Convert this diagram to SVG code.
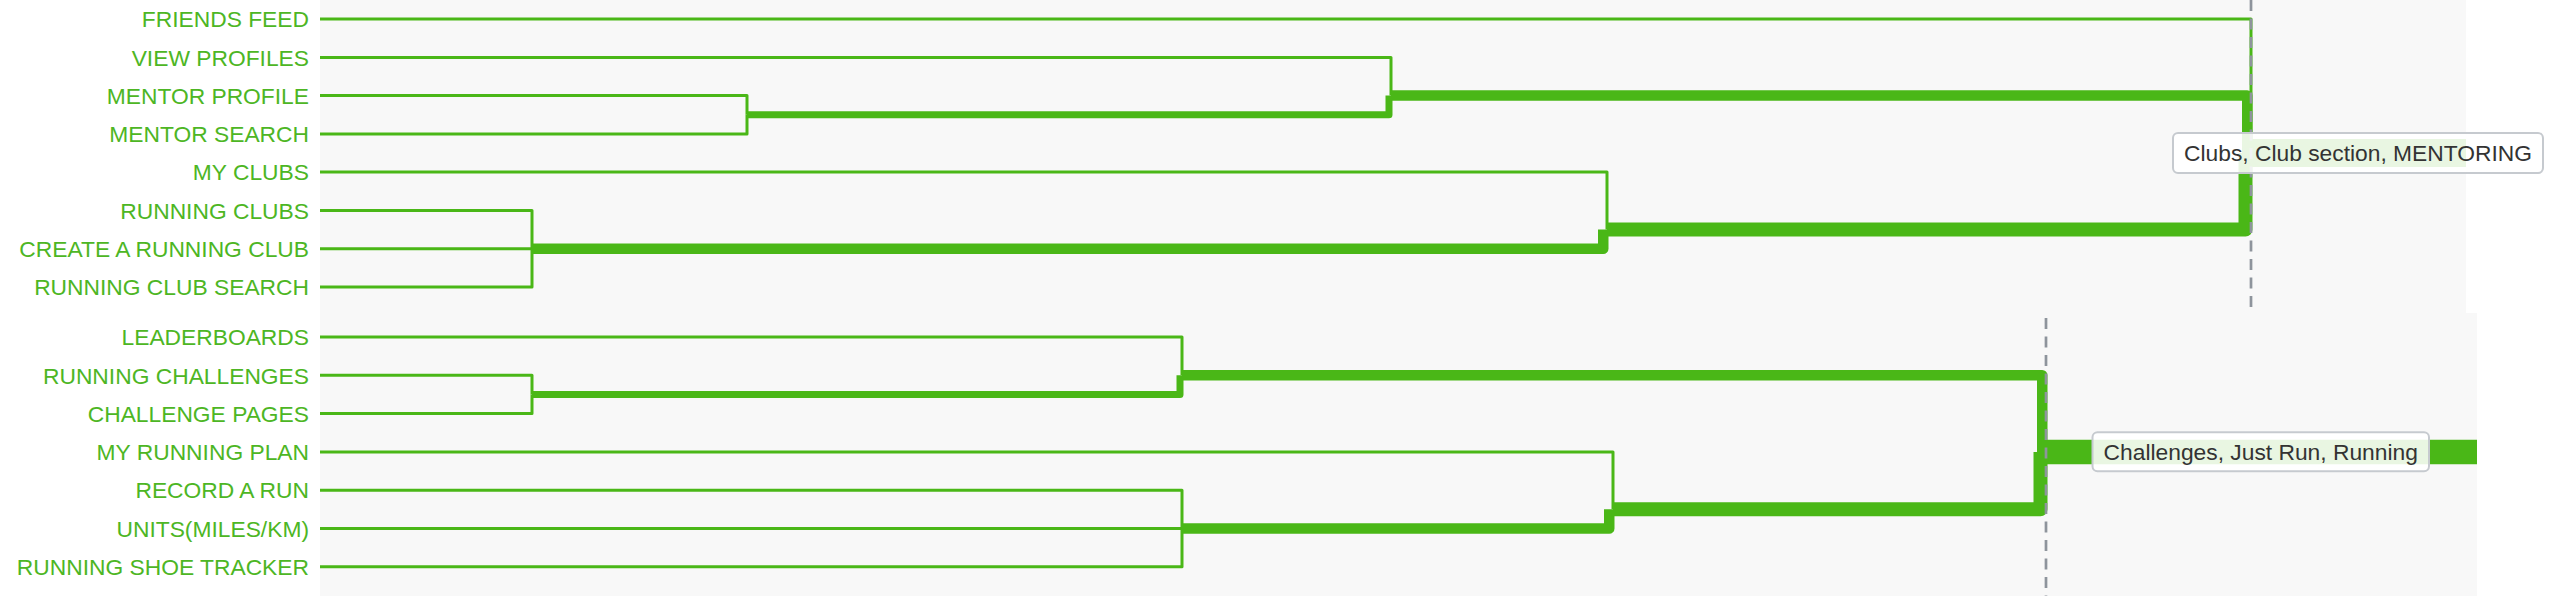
<svg xmlns="http://www.w3.org/2000/svg" width="2552" height="596" viewBox="0 0 2552 596">
<style>
.leaf{font-family:"Liberation Sans",Arial,sans-serif;font-size:22.8px;fill:#4db624;text-anchor:end}
.root text{font-family:"Liberation Sans",Arial,sans-serif;font-size:22.8px;fill:#333333;text-anchor:middle}
.root rect{fill:#ffffff;fill-opacity:0.88;stroke:#c6cacf;stroke-width:2}
.e{fill:none;stroke:#4ab717;stroke-linejoin:round;stroke-linecap:butt}
.w1{stroke-width:3}
.w2{stroke-width:7}
.w3{stroke-width:10.5}
.w4{stroke-width:14}
.w7{stroke-width:24.5}
.w8{stroke-width:28}
.dash{stroke:#8e949c;stroke-width:2.7;stroke-dasharray:11 7.5;fill:none}
.panel{fill:#f8f8f8}
</style>
<rect width="2552" height="596" fill="#ffffff"/>
<g id="panels">
<rect class="panel" x="320" y="0" width="2146" height="313"/>
<rect class="panel" x="320" y="313" width="2157" height="283"/>
</g>
<g id="connectors">
<path class="e w1" d="M320,19.1 H2251 V153"/>
<path class="e w1" d="M320,57.4 H1391 V95.6"/>
<path class="e w1" d="M320,95.6 H747 V114.75"/>
<path class="e w1" d="M320,133.9 H747 V114.75"/>
<path class="e w1" d="M320,172.1 H1607 V229.5"/>
<path class="e w1" d="M320,210.4 H532 V248.7"/>
<path class="e w1" d="M320,248.7 H532"/>
<path class="e w1" d="M320,286.9 H532 V248.7"/>
<path class="e w2" d="M747,114.75 H1389 V95.6"/>
<path class="e w3" d="M1391,95.6 H2247.25 V153"/>
<path class="e w3" d="M532,248.7 H1603.25 V229.5"/>
<path class="e w4" d="M1607,229.5 H2245.5 V153"/>
<path class="e w8" d="M2251,153 H2466"/>
<path class="e w1" d="M320,337 H1182 V375.3"/>
<path class="e w1" d="M320,375.3 H532 V394.45"/>
<path class="e w1" d="M320,413.6 H532 V394.45"/>
<path class="e w1" d="M320,451.9 H1613 V509.35"/>
<path class="e w1" d="M320,490.2 H1182 V528.5"/>
<path class="e w1" d="M320,528.5 H1182"/>
<path class="e w1" d="M320,566.8 H1182 V528.5"/>
<path class="e w2" d="M532,394.45 H1180 V375.3"/>
<path class="e w3" d="M1182,375.3 H2042.25 V451.9"/>
<path class="e w3" d="M1182,528.5 H1609.25 V509.35"/>
<path class="e w4" d="M1613,509.35 H2040.5 V451.9"/>
<path class="e w7" d="M2046,451.9 H2477"/>
<path class="dash" d="M2251,0 V313"/>
<path class="dash" d="M2046,318 V596"/>
</g>
<g id="leaf-friends-feed"><text class="leaf" x="309" y="27.3">FRIENDS FEED</text></g>
<g id="leaf-view-profiles"><text class="leaf" x="309" y="65.6">VIEW PROFILES</text></g>
<g id="leaf-mentor-profile"><text class="leaf" x="309" y="103.8">MENTOR PROFILE</text></g>
<g id="leaf-mentor-search"><text class="leaf" x="309" y="142.1">MENTOR SEARCH</text></g>
<g id="leaf-my-clubs"><text class="leaf" x="309" y="180.3">MY CLUBS</text></g>
<g id="leaf-running-clubs"><text class="leaf" x="309" y="218.6">RUNNING CLUBS</text></g>
<g id="leaf-create-club"><text class="leaf" x="309" y="256.9">CREATE A RUNNING CLUB</text></g>
<g id="leaf-club-search"><text class="leaf" x="309" y="295.1">RUNNING CLUB SEARCH</text></g>
<g id="leaf-leaderboards"><text class="leaf" x="309" y="345.2">LEADERBOARDS</text></g>
<g id="leaf-running-challenges"><text class="leaf" x="309" y="383.5">RUNNING CHALLENGES</text></g>
<g id="leaf-challenge-pages"><text class="leaf" x="309" y="421.8">CHALLENGE PAGES</text></g>
<g id="leaf-running-plan"><text class="leaf" x="309" y="460.1">MY RUNNING PLAN</text></g>
<g id="leaf-record-run"><text class="leaf" x="309" y="498.4">RECORD A RUN</text></g>
<g id="leaf-units"><text class="leaf" x="309" y="536.7">UNITS(MILES/KM)</text></g>
<g id="leaf-shoe-tracker"><text class="leaf" x="309" y="575">RUNNING SHOE TRACKER</text></g>
<g id="root-clubs" class="root">
<rect x="2173" y="133" width="370" height="40" rx="5"/>
<text x="2358" y="161.2">Clubs, Club section, MENTORING</text>
</g>
<g id="root-challenges" class="root">
<rect x="2092.5" y="432.3" width="336.5" height="39" rx="5"/>
<text x="2260.75" y="460">Challenges, Just Run, Running</text>
</g>
</svg>
